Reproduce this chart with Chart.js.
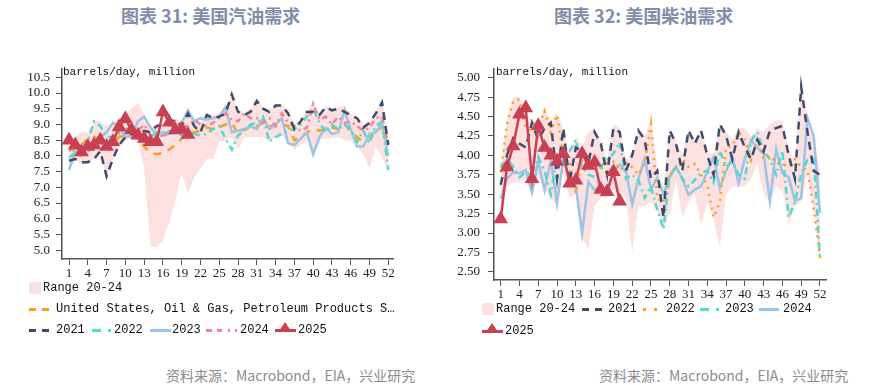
<!DOCTYPE html>
<html lang="zh">
<head>
<meta charset="UTF-8">
<title>美国汽油 / 柴油需求</title>
<script src="https://cdn.jsdelivr.net/npm/chart.js"></script>
<style>
  body { margin: 0; background: #fff; }
  #page { position: relative; width: 870px; height: 385px; overflow: hidden; font-family: "Noto Sans CJK SC", sans-serif; }
  .title { position: absolute; top: 2px; font-size: 18px; font-weight: bold; color: #7e8ea8; white-space: nowrap; }
  .src { position: absolute; top: 365px; font-size: 14px; color: #8c8c8c; white-space: nowrap; }
  .unit { position: absolute; top: 66px; font-family: "Liberation Mono", monospace; font-size: 11px; color: #111; }
  .cv { position: absolute; }
  .lg { position: absolute; font-family: "Liberation Mono", monospace; font-size: 12px; color: #111; white-space: nowrap; line-height: 14px; }
  .sw { position: absolute; height: 3px; }
  .box { position: absolute; width: 12px; height: 12px; background: #fde0e0; }
  .tri { position: absolute; width: 0; height: 0; border-left: 6px solid transparent; border-right: 6px solid transparent; border-bottom: 9px solid #c94052; }
</style>
</head>
<body>
<div id="page">
  <div class="title" style="left:121px">图表 31: 美国汽油需求</div>
  <div class="title" style="left:554px">图表 32: 美国柴油需求</div>

  <div class="cv" style="left:0;top:60px;width:420px;height:225px"><canvas id="gas"></canvas></div>
  <div class="cv" style="left:435px;top:60px;width:435px;height:245px"><canvas id="dsl"></canvas></div>

  <div class="unit" style="left:63px">barrels/day, million</div>
  <div class="unit" style="left:496px">barrels/day, million</div>

  <!-- left legend -->
  <div class="box" style="left:29px;top:282px"></div>
  <div class="lg" style="left:43px;top:281px">Range 20-24</div>
  <div class="sw" style="left:29px;top:308px;width:22px;background:repeating-linear-gradient(90deg,#f5a31a 0 7px,transparent 7px 13px)"></div>
  <div class="lg" style="left:56px;top:302px">United States, Oil &amp; Gas, Petroleum Products S…</div>
  <div class="sw" style="left:29px;top:329px;width:22px;background:repeating-linear-gradient(90deg,#3d4b6d 0 7px,transparent 7px 13px)"></div>
  <div class="lg" style="left:56px;top:323px">2021</div>
  <div class="sw" style="left:92px;top:329px;width:21px;background:linear-gradient(90deg,#4fdbd0 0 9px,transparent 9px 16px,#4fdbd0 16px 19px,transparent 19px)"></div>
  <div class="lg" style="left:114px;top:323px">2022</div>
  <div class="sw" style="left:150px;top:329px;width:21px;background:#9dc3e6"></div>
  <div class="lg" style="left:172px;top:323px">2023</div>
  <div class="sw" style="left:206px;top:329px;width:32px;background:linear-gradient(90deg,#f4829b 0 6px,transparent 6px 11px,#f4829b 11px 16px,transparent 16px 22px,#f4829b 22px 24px,transparent 24px 29px,#f4829b 29px 31px,transparent 31px)"></div>
  <div class="lg" style="left:240px;top:323px">2024</div>
  <div class="sw" style="left:275px;top:329px;width:21px;background:#c94052"></div>
  <div class="tri" style="left:279px;top:322px"></div>
  <div class="lg" style="left:298px;top:323px">2025</div>

  <!-- right legend -->
  <div class="box" style="left:482px;top:303px"></div>
  <div class="lg" style="left:496px;top:302px">Range 20-24</div>
  <div class="sw" style="left:582px;top:308px;width:21px;background:repeating-linear-gradient(90deg,#3d4b6d 0 7px,transparent 7px 13px)"></div>
  <div class="lg" style="left:608px;top:302px">2021</div>
  <div class="sw" style="left:643px;top:308px;width:14px;background:repeating-linear-gradient(90deg,#f5a31a 0 3px,transparent 3px 11px)"></div>
  <div class="lg" style="left:666px;top:302px">2022</div>
  <div class="sw" style="left:700px;top:308px;width:21px;background:linear-gradient(90deg,#4fdbd0 0 9px,transparent 9px 16px,#4fdbd0 16px 19px,transparent 19px)"></div>
  <div class="lg" style="left:725px;top:302px">2023</div>
  <div class="sw" style="left:759px;top:308px;width:20px;background:#9dc3e6"></div>
  <div class="lg" style="left:783px;top:302px">2024</div>
  <div class="sw" style="left:482px;top:330px;width:21px;background:#c94052"></div>
  <div class="tri" style="left:486px;top:323px"></div>
  <div class="lg" style="left:505px;top:324px">2025</div>

  <div class="src" style="left:166px">资料来源：Macrobond，EIA，兴业研究</div>
  <div class="src" style="left:599px">资料来源：Macrobond，EIA，兴业研究</div>
</div>

<script>
// weeks and tick values
const weeks = [1,2,3,4,5,6,7,8,9,10,11,12,13,14,15,16,17,18,19,20,21,22,23,24,25,26,
               27,28,29,30,31,32,33,34,35,36,37,38,39,40,41,42,43,44,45,46,47,48,49,50,51,52];
const weekTicks = [1,4,7,10,13,16,19,22,25,28,31,34,37,40,43,46,49,52];
const gasYTicks = [5.0,5.5,6.0,6.5,7.0,7.5,8.0,8.5,9.0,9.5,10.0,10.5];
const dslYTicks = [2.5,2.75,3.0,3.25,3.5,3.75,4.0,4.25,4.5,4.75,5.0];

// ---- gasoline (million b/d) ----
const gasRangeHi = [8.55,8.6,8.75,8.75,9.1,9.1,8.95,9.05,9.2,9.3,9.5,9.7,9.3,8.95,9.0,9.0,9.1,9.2,9.1,9.45,9.2,9.05,9.35,9.3,9.35,9.45,
                    9.95,9.45,9.4,9.5,9.8,9.55,9.45,9.65,9.65,9.4,9.0,9.15,9.45,9.7,9.35,9.6,9.5,9.55,9.6,9.35,9.25,9.0,9.1,9.4,9.75,8.5];
const gasRangeLo = [7.55,7.85,7.75,7.75,7.9,8.05,7.25,7.9,8.3,8.5,8.55,8.5,7.6,5.1,5.1,5.3,5.9,6.6,7.45,6.8,7.3,7.6,7.9,7.9,8.45,8.5,
                    8.6,8.2,8.6,8.6,8.6,8.6,8.45,8.6,8.65,8.4,8.2,8.35,8.5,8.05,8.5,8.55,8.55,8.6,8.5,8.5,8.3,8.05,7.6,8.3,7.95,7.5];
const gasProducts = [8.25,8.15,8.35,8.55,8.6,8.55,8.3,8.4,8.6,8.65,8.6,8.55,8.3,8.1,8.05,8.1,8.2,8.35,8.55,8.7,8.75,8.8,8.9,8.85,8.9,9.0,
                     9.05,8.7,8.85,8.9,8.95,9.05,8.95,8.95,9.0,8.95,8.5,8.6,8.75,8.85,8.8,8.85,8.9,8.85,9.0,8.8,8.6,8.45,8.6,8.75,8.95,8.2];
const gas2021 = [7.85,7.9,7.8,7.8,7.9,8.15,7.35,7.9,8.35,8.6,8.7,8.65,8.8,8.75,8.95,9.0,9.05,9.15,8.95,9.35,8.95,8.75,9.3,9.2,9.25,9.35,
                 9.95,9.4,9.3,9.4,9.75,9.5,9.4,9.6,9.6,9.35,8.85,9.1,9.4,9.4,9.3,9.55,9.45,9.5,9.4,9.3,9.2,8.9,9.05,9.35,9.7,8.35];
const gas2022 = [7.95,8.1,8.2,8.45,9.1,8.95,8.6,8.6,8.7,8.8,8.85,8.75,8.5,8.6,8.75,8.6,8.8,8.8,8.65,8.8,8.7,8.65,8.7,8.85,8.95,8.55,
                 8.2,8.65,8.8,9.0,9.05,9.25,8.45,8.6,8.7,8.8,8.85,9.0,9.25,9.5,9.05,8.75,9.0,8.85,9.0,8.85,8.45,8.8,8.4,8.95,9.1,7.55];
const gas2023 = [7.55,8.15,8.35,8.35,8.45,8.6,8.75,9.05,8.95,8.6,8.65,9.1,9.25,8.9,8.7,8.75,8.7,8.75,9.05,9.45,9.1,9.2,9.15,9.2,9.25,9.55,
                 8.75,8.8,8.85,8.95,8.85,9.2,8.85,9.0,9.2,8.4,8.35,8.55,8.75,8.05,8.6,8.9,8.7,8.75,9.45,8.85,8.3,8.3,8.7,8.75,9.05,8.0];
const gas2024 = [8.15,8.35,7.95,8.15,8.3,8.55,8.4,8.5,8.75,8.85,8.9,8.8,9.0,8.65,8.6,8.65,8.7,9.1,8.9,8.95,9.15,9.0,8.95,9.05,9.2,9.35,
                 9.15,9.1,9.35,9.2,9.2,9.05,9.2,8.95,9.35,9.05,8.95,8.8,8.9,9.65,9.15,9.25,9.0,9.25,9.05,9.1,8.95,8.8,8.9,9.2,9.25,8.35];
const gas2025 = [8.5,8.35,8.12,8.3,8.35,8.5,8.3,8.45,8.92,9.18,8.82,8.66,8.55,8.45,8.45,9.4,9.07,8.82,8.85,8.68];

// ---- distillate (million b/d) ----
const dslRangeHi = [3.85,4.45,4.75,4.75,4.55,4.45,4.4,4.6,4.45,4.55,4.35,4.0,4.25,4.1,4.3,4.35,4.15,3.95,4.4,4.35,3.95,4.0,4.35,4.25,4.45,3.85,
                    3.6,4.35,4.2,4.0,4.35,4.2,4.35,4.05,4.0,4.42,4.3,4.2,4.35,4.35,4.25,4.35,4.3,4.4,4.45,4.45,4.1,3.9,4.9,4.5,4.25,3.8];
const dslRangeLo = [3.4,3.6,3.65,3.65,3.7,3.5,3.75,3.55,3.45,3.35,3.8,3.45,3.5,2.95,2.78,3.35,3.45,3.45,3.55,3.5,3.45,2.75,3.35,3.35,3.4,3.3,
                    3.05,3.25,3.7,3.2,3.4,3.5,3.1,3.4,3.2,2.82,3.5,3.6,3.6,3.6,3.7,3.9,3.5,3.4,3.6,3.55,3.1,3.35,3.4,3.75,3.3,2.65];
const dsl2021 = [3.62,4.0,4.22,4.15,4.1,4.42,4.2,4.35,4.42,3.7,4.35,3.65,4.1,4.05,3.9,4.3,4.15,3.75,4.35,4.3,3.8,4.0,4.32,4.2,3.7,3.8,
                 3.2,4.32,4.15,3.8,4.32,4.15,4.32,4.0,3.75,4.4,4.25,3.95,4.3,4.1,3.95,4.2,4.05,4.32,4.35,4.38,4.0,3.7,4.88,4.3,3.8,3.75];
const dsl2022 = [3.78,4.4,4.7,4.72,4.35,4.32,4.35,4.57,4.3,4.52,4.0,3.9,3.51,3.95,3.85,3.95,3.82,3.9,3.92,3.8,3.9,3.85,3.75,3.9,4.4,3.45,
                 3.39,3.75,3.83,3.95,3.85,3.89,3.75,3.62,3.2,3.4,4.1,4.12,4.3,4.2,3.94,4.21,3.95,4.0,3.9,3.89,3.85,3.95,3.85,3.81,3.3,2.68];
const dsl2023 = [3.84,3.97,3.85,3.72,3.78,3.75,3.98,3.8,3.5,4.0,3.9,4.05,4.2,3.85,3.75,3.72,3.85,3.95,4.02,4.17,3.7,3.75,3.68,3.45,3.6,3.3,
                 3.05,3.75,3.85,3.7,3.6,3.68,3.78,3.8,3.65,4.06,3.85,3.92,3.75,3.7,4.19,4.3,4.05,3.95,3.75,4.06,3.2,3.4,3.77,3.94,4.0,2.68];
const dsl2024 = [3.44,3.7,3.78,3.77,3.81,3.52,3.92,3.55,3.94,3.38,3.96,3.7,3.6,2.99,3.66,3.55,3.62,3.52,3.82,3.88,3.8,3.37,3.7,3.96,3.56,3.71,
                 3.5,3.72,3.85,3.7,3.49,3.56,3.6,3.79,3.98,3.58,3.8,3.98,3.64,3.96,4.19,4.1,4.02,3.41,4.08,3.77,3.72,3.41,3.45,4.48,4.25,3.26];
const dsl2025 = [3.18,3.85,4.12,4.53,4.61,3.7,4.38,4.1,4.0,3.92,4.02,3.64,3.68,4.02,3.87,3.91,3.56,3.53,3.79,3.41];

const C = { navy: '#3d4b6d', teal: '#4fdbd0', blue: '#9dc3e6', pink: '#f4829b', orange: '#f5a31a', red: '#c94052', band: '#fde0e0' };

function pts(arr) {
    return arr.map((v, i) => ({ x: weeks[i], y: v }));
}

function line(label, arr, color, dash, order) {
    return { label, data: pts(arr), borderColor: color, backgroundColor: color, borderWidth: 2.5,
             borderDash: dash, pointRadius: 0, fill: false, order };
}

function red2025(arr) {
    return { label: '2025', data: pts(arr), borderColor: C.red, backgroundColor: C.red, borderWidth: 2.5,
             pointStyle: 'triangle', pointRadius: 6, pointHoverRadius: 6, fill: false, order: 0 };
}

function band(lo, hi) {
    return [
        { label: 'lo', data: pts(lo), borderWidth: 0, pointRadius: 0, fill: false, order: 10 },
        { label: 'Range 20-24', data: pts(hi), borderWidth: 0, pointRadius: 0, fill: '-1', backgroundColor: C.band, order: 10 }
    ];
}

function makeOptions(yMin, yMax, yTicks, yWidth, yPad, xMin, xMax, xHeight, padRight, decimals) {
    return {
        responsive: true,
        maintainAspectRatio: false,
        animation: false,
        events: [],
        layout: { padding: { top: 5, right: padRight, left: 0, bottom: 0 } },
        plugins: { legend: { display: false }, tooltip: { enabled: false } },
        elements: { line: { tension: 0 } },
        scales: {
            x: {
                type: 'linear', min: xMin, max: xMax,
                afterBuildTicks: s => { s.ticks = weekTicks.map(v => ({ value: v })); },
                afterFit: s => { s.height = xHeight; },
                grid: { drawOnChartArea: false, tickLength: 6, color: '#555' },
                border: { color: '#555', width: 1.5 },
                ticks: { autoSkip: false, maxRotation: 0, padding: 1, color: '#222',
                         font: { family: 'Liberation Serif', size: 13 } }
            },
            y: {
                min: yMin, max: yMax,
                afterBuildTicks: s => { s.ticks = yTicks.map(v => ({ value: v })); },
                afterFit: s => { s.width = yWidth; s.paddingTop = 0; s.paddingBottom = 0; },
                grid: { drawOnChartArea: false, tickLength: 6, color: '#555' },
                border: { color: '#555', width: 1.5 },
                ticks: { autoSkip: false, padding: yPad, color: '#222', font: { family: 'Liberation Serif', size: 13 },
                         callback: v => v.toFixed(decimals) }
            }
        }
    };
}

new Chart(document.getElementById('gas'), {
    type: 'line',
    data: {
        datasets: [
            red2025(gas2025),
            line('2023', gas2023, C.blue, [], 4),
            line('2022', gas2022, C.teal, [7, 4, 2, 4], 3),
            line('2024', gas2024, C.pink, [6, 4, 2, 4], 2),
            line('2021', gas2021, C.navy, [8, 6], 1),
            line('United States, Oil & Gas, Petroleum Products S…', gasProducts, C.orange, [8, 7], 5),
            ...band(gasRangeLo, gasRangeHi)
        ]
    },
    options: makeOptions(4.72, 10.78, gasYTicks, 62, 6, -0.12, 52.75, 26, 27, 1)
});

new Chart(document.getElementById('dsl'), {
    type: 'line',
    data: {
        datasets: [
            red2025(dsl2025),
            line('2021', dsl2021, C.navy, [8, 6], 1),
            line('2024', dsl2024, C.blue, [], 4),
            line('2023', dsl2023, C.teal, [7, 4, 2, 4], 3),
            line('2022', dsl2022, C.orange, [2, 5], 2),
            ...band(dslRangeLo, dslRangeHi)
        ]
    },
    options: makeOptions(2.395, 5.118, dslYTicks, 59, 8, -0.07, 52.96, 25, 44, 2)
});
</script>
</body>
</html>
